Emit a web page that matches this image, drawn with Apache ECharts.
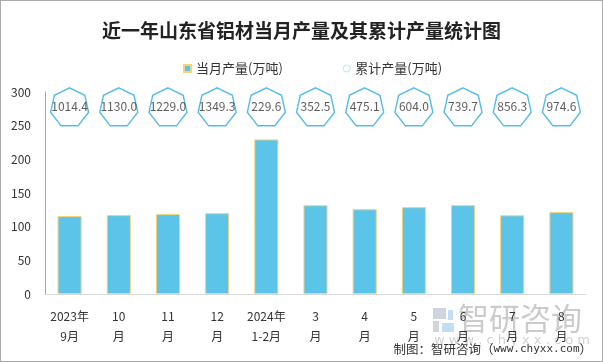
<!DOCTYPE html>
<html><head><meta charset="utf-8">
<script src="https://cdn.jsdelivr.net/npm/echarts@6/dist/echarts.min.js"></script>
<style>html,body{margin:0;padding:0;background:#fff}#c{width:603px;height:362px;box-sizing:border-box;border:1px solid #aaaaaa}</style>
</head><body><div id="c"></div>
<script>
var categories = ['2023年\n9月','10\n月','11\n月','12\n月','2024年\n1-2月','3\n月','4\n月','5\n月','6\n月','7\n月','8\n月'];
var monthly = [115.7, 117.2, 118.7, 120.1, 229.6, 131.9, 126.0, 129.0, 132.0, 117.0, 121.6];
var cumulative = [1014.4, 1130.0, 1229.0, 1349.3, 229.6, 352.5, 475.1, 604.0, 739.7, 856.3, 974.6];
var yTicks = {min: 0, max: 300, interval: 50};
var labelRow = 278; // height at which the cumulative badges sit

var hept = 'path://M0,-1 L0.782,-0.623 L0.975,0.223 L0.434,0.901 L-0.434,0.901 L-0.975,0.223 L-0.782,-0.623 Z';
var chart = echarts.init(document.getElementById('c'), null, {renderer:'canvas'});
chart.setOption({
  animation: false,
  title: {text: '近一年山东省铝材当月产量及其累计产量统计图', left: 'center', top: 15,
    textStyle: {fontFamily: 'Noto Sans CJK SC', fontSize: 19, fontWeight: 'bold', color: '#222'}},
  legend: {top: 56, left: 177, itemGap: 60, itemWidth: 7, itemHeight: 7,
    textStyle: {fontFamily: 'Noto Sans CJK SC', fontSize: 13, color: '#333'},
    data: [{name: '当月产量(万吨)', icon: 'rect'},
           {name: '累计产量(万吨)', icon: 'circle', itemStyle: {color: '#fff', borderColor: '#a8dcf0', borderWidth: 1}}]},
  grid: {left: 44, right: 16, top: 91, bottom: 67},
  xAxis: {type: 'category', data: categories,
    axisLine: {lineStyle: {color: '#d9d9d9'}}, axisTick: {show: false},
    axisLabel: {color: '#333', fontSize: 12, lineHeight: 20, margin: 12, interval: 0, fontFamily: 'Noto Sans CJK SC'}},
  yAxis: {type: 'value', min: yTicks.min, max: yTicks.max, interval: yTicks.interval,
    axisLine: {show: true, lineStyle: {color: '#a6a6a6'}}, axisTick: {show: false},
    splitLine: {show: false},
    axisLabel: {color: '#333', fontSize: 12, margin: 14, fontFamily: 'Noto Sans CJK SC'}},
  series: [
    {name: '当月产量(万吨)', type: 'bar', data: monthly, barWidth: '49%',
      itemStyle: {color: '#5bc4e8', borderColor: '#f7d27a', borderWidth: 1}},
    {name: '累计产量(万吨)', type: 'scatter', symbol: hept, symbolSize: [38, 38],
      data: cumulative.map(function(v, i){ return {value: [i, labelRow], cum: v}; }),
      itemStyle: {color: '#fff', borderColor: '#29abe2', borderWidth: 1.4},
      label: {show: true, position: 'inside', color: '#333', fontSize: 12, fontFamily: 'Noto Sans CJK SC',
        formatter: function(p){ return cumulative[p.dataIndex].toFixed(1); }},
      z: 3}
  ],
  graphic: [
    {type: 'group', left: 432, top: 302, z: -1, silent: true, children: [
      {type: 'rect', shape: {x: 0, y: 0, width: 13, height: 11}, style: {fill: 'rgba(150,160,185,0.45)'}},
      {type: 'rect', shape: {x: 0, y: 13, width: 6, height: 11}, style: {fill: 'rgba(150,160,185,0.45)'}},
      {type: 'rect', shape: {x: 9, y: 15, width: 12, height: 9}, style: {fill: 'rgba(120,180,230,0.45)'}},
      {type: 'rect', shape: {x: 15, y: 2, width: 5, height: 10}, style: {fill: 'rgba(120,180,230,0.45)'}},
      {type: 'text', x: 25, y: -5, style: {text: '智研咨询', font: '31px "Noto Sans CJK SC"', fill: 'rgba(140,140,140,0.45)'}},
      {type: 'text', x: 1, y: 26, style: {text: 'w w w . c h y x x . c o m', font: '13px "DejaVu Sans"', fill: 'rgba(140,140,140,0.4)'}}
    ]},
    {type: 'text', right: 10, top: 342, style: {
      text: '{a|制图：智研咨询（}{b|www.chyxx.com}{a|）}',
      rich: {a: {fontFamily: 'Noto Sans CJK SC', fontSize: 12.5, fill: '#333', color: '#333'},
             b: {fontFamily: 'DejaVu Sans Mono', fontSize: 11, color: '#333', fill: '#333'}}}}
  ]
});
</script></body></html>
